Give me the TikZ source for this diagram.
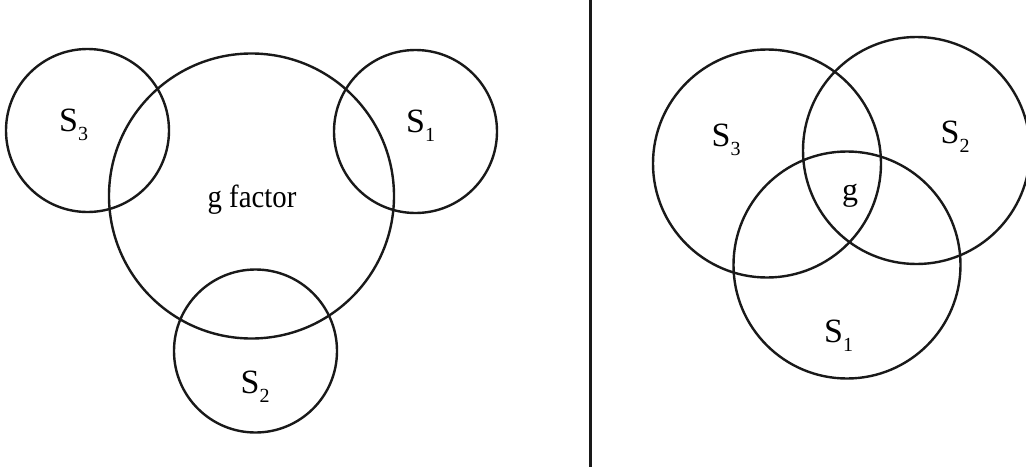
\documentclass[tikz,border=0pt]{standalone}
\usepackage{fontspec}
\setmainfont{Liberation Serif}
\newcommand{\lblS}[1]{S\raisebox{-9pt}{\fontsize{20}{20}\selectfont #1}}
\begin{document}
\begin{tikzpicture}[x=1pt,y=-1pt,
  ring/.style={draw=black!90,line width=2.4pt},
  slabel/.style={anchor=base west,inner sep=0pt,font=\fontsize{34}{34}\selectfont},
  glabel/.style={anchor=base,inner sep=0pt,font=\fontsize{32}{32}\selectfont}]
\useasboundingbox (0,0) rectangle (1026,469);
\clip (0,0) rectangle (1026,469);
% left diagram
\draw[ring] (87.5,130.5) circle (81.5);
\draw[ring] (415.5,131.5) circle (81.5);
\draw[ring] (255.5,351) circle (81.5);
\draw[ring] (251.5,196) circle (142.5);
\node[glabel] (gf) at (252,207) {\scalebox{0.9}[1]{g factor}};
\node[slabel] (ls3) at (59,131.7) {\lblS{3}};
\node[slabel] (ls1) at (406,132) {\lblS{1}};
\node[slabel] (ls2) at (240.5,393.3) {\lblS{2}};
% divider
\coordinate (dtop) at (590,0);
\coordinate (dbot) at (590,467);
\draw[line width=3pt,black!90] (dtop) -- (dbot);
% right diagram
\draw[ring] (767,163.5) circle (114);
\draw[ring] (916.5,150.5) circle (113.5);
\draw[ring] (847,265) circle (113.5);
\node[glabel] (g) at (850,200.5) {g};
\node[slabel] (rs3) at (711.5,146.7) {\lblS{3}};
\node[slabel] (rs2) at (940.5,143.3) {\lblS{2}};
\node[slabel] (rs1) at (824,342.7) {\lblS{1}};
\end{tikzpicture}
\end{document}
